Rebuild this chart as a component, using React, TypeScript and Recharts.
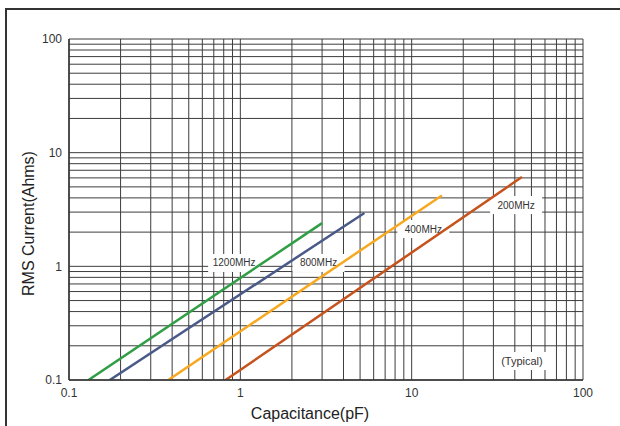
import {
  LineChart,
  Line,
  XAxis,
  YAxis,
  CartesianGrid,
  ReferenceDot,
} from "recharts";

// capacitance (pF) vs RMS current
const s1200 = [
  { x: 0.13, y: 0.1 },
  { x: 3.0, y: 2.4 },
];
const s800 = [
  { x: 0.173, y: 0.1 },
  { x: 5.3, y: 2.95 },
];
const s400 = [
  { x: 0.38, y: 0.1 },
  { x: 15, y: 4.2 },
];
const s200 = [
  { x: 0.82, y: 0.1 },
  { x: 44, y: 6.1 },
];

const series = [
  { name: "1200MHz", data: s1200, color: "#2f9e45", at: { x: 0.92, y: 1.07 } },
  { name: "800MHz", data: s800, color: "#4a5a88", at: { x: 2.86, y: 1.07 } },
  { name: "400MHz", data: s400, color: "#f7a81e", at: { x: 11.7, y: 2.13 } },
  { name: "200MHz", data: s200, color: "#c6521c", at: { x: 40.7, y: 3.46 } },
];

const xTicks = [
  0.1, 0.2, 0.3, 0.4, 0.5, 0.6, 0.7, 0.8, 0.9,
  1, 2, 3, 4, 5, 6, 7, 8, 9,
  10, 20, 30, 40, 50, 60, 70, 80, 90, 100,
];
const yTicks = [
  0.1, 0.2, 0.3, 0.4, 0.5, 0.6, 0.7, 0.8, 0.9,
  1, 2, 3, 4, 5, 6, 7, 8, 9,
  10, 20, 30, 40, 50, 60, 70, 80, 90, 100,
];
const decadeLabels = ["0.1", "1", "10", "100"];

const fmt = (v: number) => {
  const s = String(Number(v.toPrecision(3)));
  return decadeLabels.includes(s) ? s : "";
};

function BoxLabel({ cx, cy, text, w, size }: any) {
  return (
    <g>
      <rect x={cx - w / 2} y={cy - 9} width={w} height={18} fill="#fff" />
      <text
        x={cx}
        y={cy}
        textAnchor="middle"
        dominantBaseline="central"
        fontSize={size}
        fill="#333"
        fontFamily="Liberation Sans, Arial, sans-serif"
      >
        {text}
      </text>
    </g>
  );
}

export default function App() {
  return (
    <div
      style={{
        position: "fixed",
        left: 0,
        top: 0,
        width: 620,
        height: 426,
        overflow: "hidden",
        background: "#fff",
        fontFamily: "Liberation Sans, Arial, sans-serif",
      }}
    >
      <div
        style={{
          position: "absolute",
          left: 5,
          top: 8,
          width: 700,
          height: 500,
          borderLeft: "2px solid #333",
          borderTop: "2px solid #333",
        }}
      />
      <div style={{ position: "absolute", left: 0, top: 0 }}>
        <LineChart
          width={620}
          height={426}
          margin={{ top: 39, right: 37, left: 0, bottom: 0 }}
        >
          <CartesianGrid stroke="#3d3d3d" strokeWidth={1} />
          <XAxis
            dataKey="x"
            type="number"
            scale="log"
            domain={[0.1, 100]}
            allowDataOverflow
            ticks={xTicks}
            interval={0}
            tickFormatter={fmt}
            tickLine={false}
            tickSize={0}
            tickMargin={8}
            height={46}
            axisLine={{ stroke: "#333", strokeWidth: 1.5 }}
            tick={{ fontSize: 12, fill: "#333" }}
            label={{
              value: "Capacitance(pF)",
              position: "center",
              dx: -16,
              dy: 10,
              fontSize: 16,
              fill: "#222",
            }}
          />
          <YAxis
            dataKey="y"
            type="number"
            scale="log"
            domain={[0.1, 100]}
            allowDataOverflow
            ticks={yTicks}
            interval={0}
            tickFormatter={fmt}
            tickLine={false}
            tickSize={0}
            tickMargin={7}
            width={69}
            axisLine={{ stroke: "#333", strokeWidth: 1.5 }}
            tick={{ fontSize: 12, fill: "#333" }}
            label={{
              value: "RMS Current(Ahms)",
              angle: -90,
              position: "center",
              dx: -6,
              dy: 14,
              fontSize: 16,
              fill: "#222",
            }}
          />
          {series.map((s) => (
            <ReferenceDot
              key={"l" + s.name}
              x={s.at.x}
              y={s.at.y}
              r={0}
              {...({ zIndex: 350 } as any)}
              shape={(p: any) => (
                <BoxLabel cx={p.cx} cy={p.cy} text={s.name} w={52} size={10} />
              )}
            />
          ))}
          <ReferenceDot
            x={44}
            y={0.147}
            r={0}
            {...({ zIndex: 350 } as any)}
            shape={(p: any) => (
              <BoxLabel cx={p.cx} cy={p.cy} text="(Typical)" w={52} size={11} />
            )}
          />
          {series.map((s) => (
            <Line
              key={s.name}
              data={s.data}
              dataKey="y"
              stroke={s.color}
              strokeWidth={2.5}
              dot={false}
              isAnimationActive={false}
            />
          ))}
        </LineChart>
      </div>
    </div>
  );
}
